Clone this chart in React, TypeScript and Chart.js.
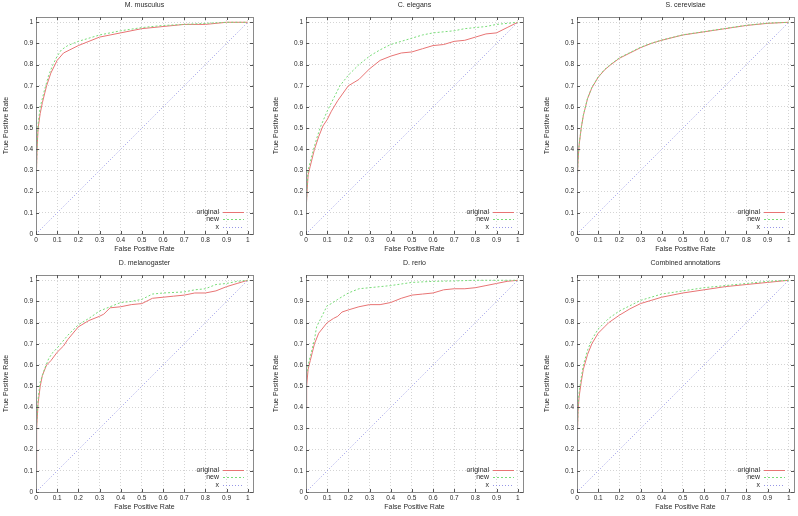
import React, { useEffect, useRef } from "react";
import { Chart, registerables } from "chart.js";

Chart.register(...registerables);

// ---------- data ----------
const tickValues = [0, 0.1, 0.2, 0.3, 0.4, 0.5, 0.6, 0.7, 0.8, 0.9, 1];
const tickLabels = ["0", "0.1", "0.2", "0.3", "0.4", "0.5", "0.6", "0.7", "0.8", "0.9", "1"];
const axisMax = 1.025;
const seriesNames = ["original", "new", "x"];
const xAxisTitle = "False Positive Rate";
const yAxisTitle = "True Positive Rate";

const panelTitles = [
  "M. musculus",
  "C. elegans",
  "S. cerevisiae",
  "D. melanogaster",
  "D. rerio",
  "Combined annotations",
];

const musculusOriginalFpr = [0, 0.005, 0.01, 0.02, 0.03, 0.05, 0.07, 0.1, 0.13, 0.17, 0.2, 0.25, 0.3, 0.35, 0.4, 0.5, 0.6, 0.7, 0.8, 0.85, 0.9, 1];
const musculusOriginalTpr = [0.2, 0.4, 0.5, 0.57, 0.62, 0.7, 0.76, 0.82, 0.855, 0.875, 0.89, 0.91, 0.93, 0.94, 0.95, 0.97, 0.98, 0.99, 0.99, 0.995, 1, 1];
const musculusNewFpr = [0, 0.005, 0.01, 0.02, 0.04, 0.06, 0.08, 0.1, 0.12, 0.15, 0.2, 0.25, 0.3, 0.4, 0.5, 0.6, 0.7, 0.8, 0.9, 1];
const musculusNewTpr = [0.2, 0.42, 0.52, 0.6, 0.68, 0.75, 0.8, 0.84, 0.87, 0.89, 0.91, 0.925, 0.94, 0.96, 0.975, 0.985, 0.99, 0.995, 1, 1];

const elegansOriginalFpr = [0, 0.005, 0.01, 0.02, 0.04, 0.06, 0.08, 0.1, 0.12, 0.15, 0.2, 0.25, 0.3, 0.35, 0.4, 0.45, 0.5, 0.55, 0.6, 0.65, 0.7, 0.75, 0.8, 0.85, 0.9, 0.95, 1];
const elegansOriginalTpr = [0.1, 0.2, 0.28, 0.32, 0.4, 0.46, 0.51, 0.54, 0.58, 0.63, 0.7, 0.73, 0.78, 0.82, 0.84, 0.855, 0.86, 0.875, 0.89, 0.895, 0.91, 0.915, 0.93, 0.945, 0.95, 0.975, 1];
const elegansNewFpr = [0, 0.005, 0.01, 0.03, 0.05, 0.07, 0.1, 0.13, 0.16, 0.2, 0.25, 0.3, 0.35, 0.4, 0.45, 0.5, 0.55, 0.6, 0.65, 0.7, 0.75, 0.8, 0.85, 0.9, 0.95, 1];
const elegansNewTpr = [0.1, 0.22, 0.3, 0.38, 0.45, 0.51, 0.58, 0.64, 0.7, 0.75, 0.8, 0.84, 0.87, 0.895, 0.91, 0.925, 0.94, 0.95, 0.955, 0.96, 0.97, 0.975, 0.98, 0.99, 0.995, 1];

const cerevisiaeOriginalFpr = [0, 0.005, 0.01, 0.02, 0.03, 0.05, 0.07, 0.1, 0.13, 0.16, 0.2, 0.25, 0.3, 0.35, 0.4, 0.5, 0.6, 0.7, 0.8, 0.9, 1];
const cerevisiaeOriginalTpr = [0.22, 0.35, 0.42, 0.5, 0.56, 0.64, 0.69, 0.74, 0.775, 0.8, 0.83, 0.855, 0.88, 0.9, 0.915, 0.94, 0.955, 0.97, 0.985, 0.995, 1];
const cerevisiaeNewFpr = [0, 0.005, 0.01, 0.02, 0.03, 0.05, 0.07, 0.1, 0.13, 0.16, 0.2, 0.25, 0.3, 0.35, 0.4, 0.5, 0.6, 0.7, 0.8, 0.9, 1];
const cerevisiaeNewTpr = [0.22, 0.352, 0.422, 0.502, 0.562, 0.642, 0.692, 0.742, 0.777, 0.802, 0.832, 0.857, 0.882, 0.901, 0.916, 0.941, 0.956, 0.971, 0.986, 0.996, 1];

const melanogasterOriginalFpr = [0, 0.003, 0.01, 0.02, 0.03, 0.05, 0.07, 0.1, 0.13, 0.15, 0.2, 0.25, 0.3, 0.32, 0.35, 0.4, 0.45, 0.5, 0.55, 0.6, 0.65, 0.7, 0.75, 0.8, 0.85, 0.9, 0.95, 1];
const melanogasterOriginalTpr = [0.1, 0.3, 0.42, 0.5, 0.55, 0.6, 0.62, 0.66, 0.69, 0.72, 0.78, 0.81, 0.83, 0.84, 0.87, 0.875, 0.885, 0.89, 0.915, 0.92, 0.925, 0.93, 0.94, 0.94, 0.95, 0.97, 0.985, 1];
const melanogasterNewFpr = [0, 0.003, 0.01, 0.02, 0.04, 0.06, 0.08, 0.1, 0.15, 0.2, 0.25, 0.3, 0.35, 0.4, 0.45, 0.5, 0.55, 0.6, 0.7, 0.75, 0.8, 0.85, 0.9, 0.95, 1];
const melanogasterNewTpr = [0.1, 0.32, 0.44, 0.52, 0.58, 0.63, 0.66, 0.68, 0.74, 0.79, 0.82, 0.855, 0.875, 0.895, 0.9, 0.91, 0.935, 0.94, 0.945, 0.955, 0.96, 0.98, 0.985, 0.995, 1];

const rerioOriginalFpr = [0, 0.003, 0.01, 0.02, 0.03, 0.04, 0.06, 0.1, 0.13, 0.15, 0.17, 0.2, 0.25, 0.3, 0.35, 0.4, 0.45, 0.5, 0.55, 0.6, 0.65, 0.7, 0.75, 0.8, 0.85, 0.9, 0.95, 1];
const rerioOriginalTpr = [0.4, 0.5, 0.58, 0.62, 0.66, 0.7, 0.75, 0.8, 0.82, 0.83, 0.85, 0.86, 0.875, 0.885, 0.885, 0.895, 0.915, 0.93, 0.935, 0.94, 0.955, 0.96, 0.96, 0.965, 0.975, 0.985, 0.995, 1];
const rerioNewFpr = [0, 0.003, 0.01, 0.02, 0.04, 0.05, 0.07, 0.1, 0.12, 0.15, 0.2, 0.25, 0.3, 0.35, 0.4, 0.5, 0.6, 0.7, 0.8, 1];
const rerioNewTpr = [0.4, 0.55, 0.6, 0.64, 0.72, 0.78, 0.82, 0.88, 0.89, 0.91, 0.94, 0.96, 0.965, 0.97, 0.975, 0.99, 0.995, 0.997, 1, 1];

const combinedOriginalFpr = [0, 0.005, 0.01, 0.02, 0.03, 0.05, 0.07, 0.1, 0.13, 0.15, 0.2, 0.25, 0.3, 0.35, 0.4, 0.5, 0.6, 0.7, 0.8, 0.9, 1];
const combinedOriginalTpr = [0.2, 0.38, 0.45, 0.52, 0.58, 0.65, 0.7, 0.75, 0.78, 0.8, 0.835, 0.865, 0.89, 0.905, 0.92, 0.94, 0.955, 0.97, 0.98, 0.99, 1];
const combinedNewFpr = [0, 0.005, 0.01, 0.02, 0.03, 0.05, 0.07, 0.1, 0.13, 0.15, 0.2, 0.25, 0.3, 0.35, 0.4, 0.5, 0.6, 0.7, 0.8, 0.9, 1];
const combinedNewTpr = [0.2, 0.4, 0.47, 0.54, 0.6, 0.67, 0.72, 0.77, 0.8, 0.82, 0.855, 0.88, 0.905, 0.92, 0.935, 0.95, 0.965, 0.975, 0.985, 0.995, 1];

const diagonalFpr = [0, 1];
const diagonalTpr = [0, 1];

const originalSeries = [
  [musculusOriginalFpr, musculusOriginalTpr],
  [elegansOriginalFpr, elegansOriginalTpr],
  [cerevisiaeOriginalFpr, cerevisiaeOriginalTpr],
  [melanogasterOriginalFpr, melanogasterOriginalTpr],
  [rerioOriginalFpr, rerioOriginalTpr],
  [combinedOriginalFpr, combinedOriginalTpr],
];
const newSeries = [
  [musculusNewFpr, musculusNewTpr],
  [elegansNewFpr, elegansNewTpr],
  [cerevisiaeNewFpr, cerevisiaeNewTpr],
  [melanogasterNewFpr, melanogasterNewTpr],
  [rerioNewFpr, rerioNewTpr],
  [combinedNewFpr, combinedNewTpr],
];

// ---------- layout / style ----------
const colLeft = [0, 270, 541];
const colWidth = [266, 266, 257];
const colRightPad = [13, 13, 4];
const rowTop = [0, 258];
const panelHeight = 258;

const FONT = "'Liberation Sans', Arial, Helvetica, sans-serif";
const TEXT = "#2a2a2a";
const RED = "rgb(232,116,116)";
const GREEN = "rgb(120,220,120)";
const BLUE = "rgb(150,150,230)";

const toPoints = (xs: number[], ys: number[]) => xs.map((x, i) => ({ x, y: ys[i] }));

const framePlugin = {
  id: "gnuFrame",
  afterDatasetsDraw(chart: any) {
    const { ctx, chartArea } = chart;
    const { left, right, top, bottom } = chartArea;
    const xs = chart.scales.x;
    const ys = chart.scales.y;
    ctx.save();
    ctx.strokeStyle = "#8a8a8a";
    ctx.lineWidth = 1;
    ctx.setLineDash([]);
    ctx.strokeRect(Math.round(left) + 0.5, Math.round(top) + 0.5, Math.round(right - left), Math.round(bottom - top));
    ctx.strokeStyle = "#555";
    ctx.beginPath();
    tickValues.forEach((v) => {
      const px = Math.round(xs.getPixelForValue(v)) + 0.5;
      ctx.moveTo(px, bottom);
      ctx.lineTo(px, bottom - 3);
      ctx.moveTo(px, top);
      ctx.lineTo(px, top + 3);
      const py = Math.round(ys.getPixelForValue(v)) + 0.5;
      ctx.moveTo(left, py);
      ctx.lineTo(left + 3, py);
      ctx.moveTo(right, py);
      ctx.lineTo(right - 3, py);
    });
    ctx.stroke();
    ctx.restore();
  },
  afterDraw(chart: any) {
    const { ctx, chartArea } = chart;
    const { right, bottom } = chartArea;
    ctx.save();
    ctx.font = `7px ${FONT}`;
    ctx.fillStyle = TEXT;
    ctx.textAlign = "right";
    ctx.textBaseline = "middle";
    const rowYs = [bottom - 22, bottom - 14.7, bottom - 7.3];
    chart.data.datasets.forEach((ds: any, i: number) => {
      const y = rowYs[i];
      ctx.fillText(ds.label, right - 34, y);
      ctx.strokeStyle = ds.borderColor;
      ctx.lineWidth = 1;
      ctx.setLineDash(ds.borderDash || []);
      ctx.beginPath();
      ctx.moveTo(right - 30, Math.round(y) + 0.5);
      ctx.lineTo(right - 9, Math.round(y) + 0.5);
      ctx.stroke();
    });
    ctx.restore();
  },
};

function Panel({ index }: { index: number }) {
  const ref = useRef<HTMLCanvasElement | null>(null);
  const col = index % 3;
  const row = Math.floor(index / 3);
  const width = colWidth[col];

  useEffect(() => {
    if (!ref.current) return;
    const [ox, oy] = originalSeries[index];
    const [nx, ny] = newSeries[index];
    const axisCommon = (title: string, isX: boolean) => ({
      type: "linear" as const,
      min: 0,
      max: axisMax,
      afterBuildTicks: (scale: any) => {
        scale.ticks = tickValues.map((v) => ({ value: v }));
      },
      afterFit: (scale: any) => {
        if (isX) scale.height = 24;
        else scale.width = 36;
      },
      ticks: {
        autoSkip: false,
        maxRotation: 0,
        padding: isX ? 2 : 3,
        color: TEXT,
        font: { family: FONT, size: 6.5 },
        callback: (_v: any, i: number) => tickLabels[i],
      },
      grid: {
        color: "#d4d4d4",
        lineWidth: 1,
        drawTicks: false,
      },
      border: { display: false, dash: [1, 2] },
      title: {
        display: true,
        text: title,
        color: TEXT,
        font: { family: FONT, size: 7 },
        padding: isX ? { top: 0, bottom: 5 } : { top: 2, bottom: 0 },
      },
    });

    const chart = new Chart(ref.current, {
      type: "line",
      data: {
        datasets: [
          {
            label: seriesNames[0],
            data: toPoints(ox, oy),
            borderColor: RED,
            borderWidth: 1,
            pointRadius: 0,
            tension: 0,
            order: 2,
          },
          {
            label: seriesNames[1],
            data: toPoints(nx, ny),
            borderColor: GREEN,
            borderWidth: 1,
            borderDash: [2, 2],
            pointRadius: 0,
            tension: 0,
            order: 1,
          },
          {
            label: seriesNames[2],
            data: toPoints(diagonalFpr, diagonalTpr),
            borderColor: BLUE,
            borderWidth: 1,
            borderDash: [1, 2],
            pointRadius: 0,
            tension: 0,
            order: 3,
          },
        ],
      },
      options: {
        responsive: false,
        animation: false,
        parsing: false as any,
        layout: { padding: { left: 0, right: colRightPad[col], top: 0, bottom: 0 } },
        plugins: {
          legend: { display: false },
          tooltip: { enabled: false },
          title: {
            display: true,
            text: panelTitles[index],
            color: TEXT,
            fullSize: false,
            font: { family: FONT, size: 7, weight: "normal" as any },
            padding: { top: 1, bottom: 7.6 },
          },
        },
        scales: {
          x: axisCommon(xAxisTitle, true),
          y: axisCommon(yAxisTitle, false),
        },
      },
      plugins: [framePlugin],
    });
    return () => chart.destroy();
  }, [index]);

  return (
    <canvas
      ref={ref}
      width={width}
      height={panelHeight}
      style={{
        position: "absolute",
        left: colLeft[col],
        top: rowTop[row],
        width,
        height: panelHeight,
        display: "block",
      }}
    />
  );
}

export default function App() {
  return (
    <div
      style={{
        position: "fixed",
        left: 0,
        top: 0,
        width: 798,
        height: 516,
        background: "#fff",
        overflow: "hidden",
      }}
    >
      {panelTitles.map((_, i) => (
        <Panel key={i} index={i} />
      ))}
    </div>
  );
}
